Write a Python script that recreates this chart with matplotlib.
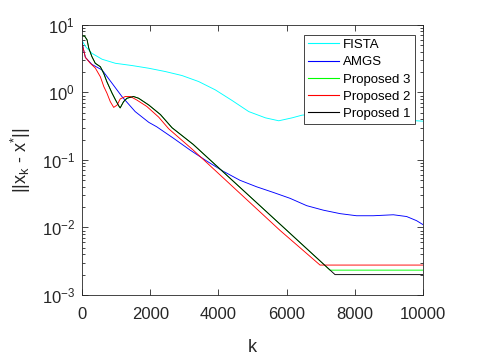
import matplotlib
matplotlib.use("Agg")
import matplotlib.pyplot as plt
from matplotlib.ticker import LogLocator, FixedLocator, NullFormatter

plt.rcParams['font.family'] = ['Liberation Sans', 'DejaVu Sans']
plt.rcParams['mathtext.fontset'] = 'custom'
plt.rcParams['mathtext.rm'] = 'Liberation Sans'
plt.rcParams['mathtext.it'] = 'Liberation Sans'

# ---- data ----
k_fista = [0, 100, 290, 590, 980, 1470, 1960, 2440, 2930, 3420, 3910, 4400, 4890, 5380, 5770,
           6160, 6450, 7000, 7800, 8600, 9400, 10000]
v_fista = [5.9, 4.8, 3.8, 3.1, 2.7, 2.5, 2.28, 2.04, 1.78, 1.45, 1.09, 0.76, 0.52, 0.42, 0.38,
           0.42, 0.46, 0.49, 0.47, 0.42, 0.39, 0.375]

k_amgs = [0, 100, 290, 590, 880, 1170, 1560, 1960, 2190, 2680, 3170, 3660, 4140, 4630, 5120,
          5610, 6100, 6590, 7080, 7570, 8050, 8540, 9130, 9520, 9810, 10000]
v_amgs = [5.4, 3.3, 2.6, 2.15, 1.37, 0.87, 0.52, 0.36, 0.31, 0.21, 0.14, 0.096, 0.068, 0.050, 0.040,
          0.033, 0.027, 0.021, 0.018, 0.016, 0.0149, 0.0149, 0.0154, 0.0145, 0.0126, 0.011]

k_p2 = [0, 100, 245, 390, 540, 640, 730, 830, 930, 1030, 1120, 1270, 1420, 1610, 1900, 2250,
        2540, 3260, 5800, 6980, 10000]
v_p2 = [5.4, 3.3, 2.7, 2.3, 1.7, 1.22, 0.98, 0.73, 0.60, 0.65, 0.80, 0.87, 0.87, 0.77, 0.62, 0.43,
        0.29, 0.14, 0.0091, 0.00277, 0.00277]

k_p1 = [0, 80, 150, 200, 290, 390, 540, 640, 730, 880, 980, 1080, 1120, 1220, 1320, 1510, 1660,
        1960, 2300, 2640, 3260, 6000, 7420, 10000]
v_p1 = [6.9, 6.8, 6.0, 4.5, 3.4, 2.7, 2.4, 1.9, 1.44, 0.98, 0.78, 0.63, 0.59, 0.73, 0.82, 0.87, 0.82,
        0.65, 0.47, 0.30, 0.17, 0.0091, 0.0020, 0.0020]

k_p3 = [0, 80, 150, 200, 290, 390, 540, 640, 730, 880, 980, 1080, 1120, 1220, 1320, 1510, 1660,
        1960, 2300, 2640, 3260, 6000, 7270, 10000]
v_p3 = [6.9, 6.8, 6.0, 4.5, 3.4, 2.7, 2.4, 1.9, 1.44, 0.98, 0.78, 0.63, 0.59, 0.73, 0.82, 0.87, 0.82,
        0.65, 0.47, 0.30, 0.17, 0.0091, 0.00233, 0.00233]

labels = ['FISTA', 'AMGS', 'Proposed 3', 'Proposed 2', 'Proposed 1']
xticks = [0, 2000, 4000, 6000, 8000, 10000]

fig = plt.figure(figsize=(4.78, 3.61), dpi=100)
ax = fig.add_axes([0.1715, 0.183, 0.7135, 0.748])

lw = 0.65
ax.semilogy(k_fista, v_fista, color=(0, 1, 1), lw=lw, label=labels[0])
ax.semilogy(k_amgs, v_amgs, color=(0, 0, 1), lw=lw, label=labels[1])
ax.semilogy(k_p3, v_p3, color=(0, 1, 0), lw=lw, label=labels[2])
ax.semilogy(k_p2, v_p2, color=(1, 0, 0), lw=lw, label=labels[3])
ax.semilogy(k_p1, v_p1, color=(0, 0, 0), lw=lw, label=labels[4])

ax.set_xlim(0, 10000)
ax.set_ylim(1e-3, 1e1)
ax.xaxis.set_major_locator(FixedLocator(xticks))
ax.yaxis.set_major_locator(LogLocator(base=10, numticks=10))
ax.yaxis.set_minor_locator(LogLocator(base=10, subs=range(2, 10), numticks=10))
ax.yaxis.set_minor_formatter(NullFormatter())

edge = (0.15, 0.15, 0.15)
for s in ax.spines.values():
    s.set_color(edge)
    s.set_linewidth(0.6)
ax.tick_params(which='both', direction='in', top=True, right=True, colors=edge,
               labelsize=12, width=0.6)
ax.tick_params(which='major', length=4)
ax.tick_params(which='minor', length=2.2)
ax.tick_params(axis='x', which='both', pad=9)
ax.tick_params(axis='y', which='both', pad=5)

ax.set_xlabel('k', fontsize=13, color=edge, labelpad=12)
ax.set_ylabel(r'||x$_\mathregular{k}$ - x$^\mathregular{*}$||', fontsize=13, color=edge, labelpad=6)

leg = ax.legend(loc='upper right', bbox_to_anchor=(0.975, 0.963), fontsize=9.5,
                frameon=True, fancybox=False, framealpha=1, edgecolor=(0.15, 0.15, 0.15),
                handlelength=2.35, handletextpad=0.3, borderpad=0.3, labelspacing=0.38,
                borderaxespad=0)
leg.get_frame().set_linewidth(0.6)
for h in leg.get_lines():
    h.set_linewidth(0.8)

fig.savefig('out.png', dpi=100, facecolor='white')
